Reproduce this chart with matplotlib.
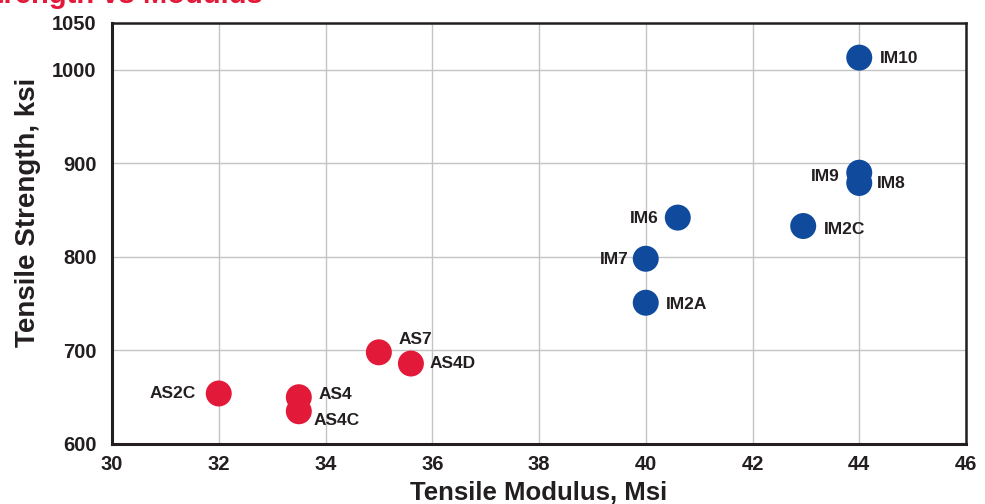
import matplotlib
matplotlib.use("Agg")
import matplotlib.pyplot as plt

# data
names = ["AS2C", "AS4", "AS4C", "AS7", "AS4D",
         "IM6", "IM7", "IM2A", "IM2C", "IM9", "IM8", "IM10"]
modulus = [32.0, 33.5, 33.5, 35.0, 35.6,
           40.6, 40.0, 40.0, 42.95, 44.0, 44.0, 44.0]
strength = [654, 650, 635, 698, 686,
            842, 798, 751, 833, 890, 879, 1013]
family = ["AS"] * 5 + ["IM"] * 7

x_ticks = [30, 32, 34, 36, 38, 40, 42, 44, 46]
y_ticks = [600, 700, 800, 900, 1000, 1050]

# label offsets in pixels (dx, dy up) and alignment
offsets = {
    "AS2C": (-23, 0, "right"), "AS4": (20, 3, "left"), "AS4C": (15, -9, "left"),
    "AS7": (20, 13, "left"), "AS4D": (19, 0, "left"),
    "IM6": (-19, -1, "right"), "IM7": (-17, -1, "right"), "IM2A": (20, -2, "left"),
    "IM2C": (21, -3, "left"), "IM9": (-20, -4, "right"), "IM8": (18, -1, "left"),
    "IM10": (21, -1, "left"),
}

red = "#e3193a"
blue = "#0f4a9c"
ink = "#231f20"
bold = ["Liberation Sans", "DejaVu Sans"]

fig = plt.figure(figsize=(9.85, 5.04), dpi=100)
ax = fig.add_axes([112 / 985, 1 - 444 / 504, (966 - 112) / 985, (444 - 23) / 504])

colors = [red if f == "AS" else blue for f in family]
ax.scatter(modulus, strength, s=350, c=colors, edgecolors="none", zorder=3)

for n, x, y in zip(names, modulus, strength):
    dx, dy, ha = offsets[n]
    ax.annotate(n, (x, y), xytext=(dx * 0.72, dy * 0.72), textcoords="offset points",
                ha=ha, va="center", fontsize=12.5, fontweight="bold",
                family=bold, color=ink, zorder=4)

ax.set_xlim(30, 46)
ax.set_ylim(600, 1050)
ax.set_xticks(x_ticks)
ax.set_yticks(y_ticks)
ax.set_xticklabels([str(v) for v in x_ticks], family=bold, fontweight="bold",
                   fontsize=14.5, color=ink)
ax.set_yticklabels([str(v) for v in y_ticks], family=bold, fontweight="bold",
                   fontsize=14.5, color=ink)
ax.tick_params(length=0)
ax.tick_params(axis="y", pad=11)
ax.tick_params(axis="x", pad=8)

ax.grid(True, color="#c4c4c4", linewidth=1.0, zorder=0)
for side, sp in ax.spines.items():
    sp.set_color(ink)
    sp.set_linewidth(2.2 if side in ("left", "bottom") else 1.8)

ax.set_xlabel("Tensile Modulus, Msi", family=bold, fontweight="bold",
              fontsize=18.5, color=ink, labelpad=5)
fig.text(28 / 985, 1 - 212 / 504, "Tensile Strength, ksi", rotation=90,
         ha="center", va="center", family=bold, fontweight="bold",
         fontsize=20, color=ink)

fig.text(263 / 985, 1 - 3 / 504, "Tensile Strength vs Modulus", ha="right",
         va="baseline", family=bold, fontweight="bold", fontsize=21, color=red)

fig.savefig("out.png", dpi=100)
